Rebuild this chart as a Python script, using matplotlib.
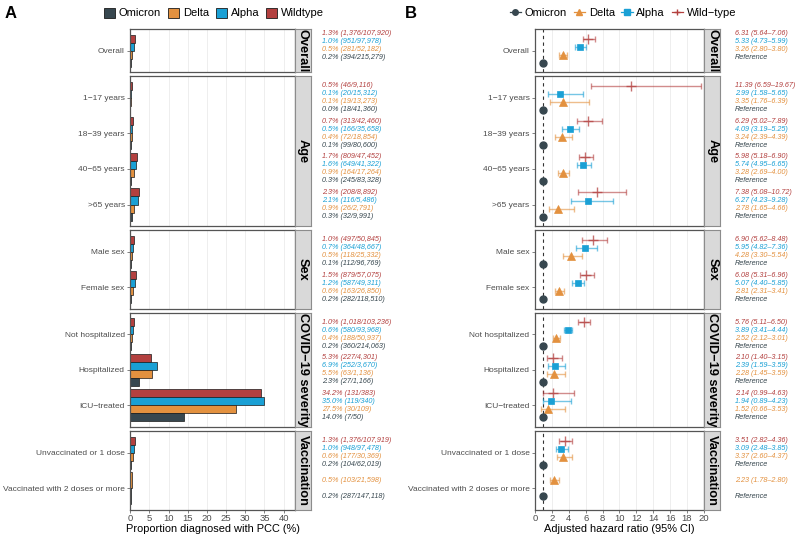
import matplotlib.pyplot as plt
from matplotlib.lines import Line2D
from matplotlib.patches import Patch
from matplotlib.transforms import blended_transform_factory

plt.rcParams['font.family'] = ['Liberation Sans', 'DejaVu Sans']

# ---- data ----
facets = ["Overall", "Age", "Sex", "COVID\u221219 severity", "Vaccination"]
facet_rows = [1, 4, 2, 3, 2]
categories = ["Overall", "1\u221217 years", "18\u221239 years", "40\u221265 years", ">65 years",
              "Male sex", "Female sex", "Not hospitalized", "Hospitalized", "ICU\u2212treated",
              "Unvaccinated or 1 dose", "Vaccinated with 2 doses or more"]

variants = ["Wildtype", "Alpha", "Delta", "Omicron"]
colors = ["#B3403F", "#1AA0D5", "#E3913F", "#37474F"]

# panel A: PCC cases / persons
wild_cases = [1376, 46, 313, 809, 208, 497, 879, 1018, 227, 131, 1376, None]
wild_total = [107920, 9116, 42460, 47452, 8892, 50845, 57075, 103236, 4301, 383, 107919, None]
alpha_cases = [951, 20, 166, 649, 116, 364, 587, 580, 252, 119, 948, None]
alpha_total = [97978, 15312, 35658, 41322, 5486, 48667, 49311, 93968, 3670, 340, 97478, None]
delta_cases = [281, 19, 72, 164, 26, 118, 163, 188, 63, 30, 177, 103]
delta_total = [52182, 13273, 18854, 17264, 2791, 25332, 26850, 50937, 1136, 109, 30369, 21598]
omicron_cases = [394, 18, 99, 245, 32, 112, 282, 360, 27, 7, 104, 287]
omicron_total = [215279, 41360, 80600, 83328, 9991, 96769, 118510, 214063, 1166, 50, 62019, 147118]

# panel B: adjusted hazard ratios (Omicron = reference)
wild_hr = [6.31, 11.39, 6.29, 5.98, 7.38, 6.90, 6.08, 5.76, 2.10, 2.14, 3.51, None]
wild_lo = [5.64, 6.59, 5.02, 5.18, 5.08, 5.62, 5.31, 5.11, 1.40, 0.99, 2.82, None]
wild_hi = [7.06, 19.67, 7.89, 6.90, 10.72, 8.48, 6.96, 6.50, 3.15, 4.63, 4.36, None]
alpha_hr = [5.33, 2.99, 4.09, 5.74, 6.27, 5.95, 5.07, 3.89, 2.39, 1.94, 3.09, None]
alpha_lo = [4.73, 1.58, 3.19, 4.95, 4.23, 4.82, 4.40, 3.41, 1.59, 0.89, 2.48, None]
alpha_hi = [5.99, 5.65, 5.25, 6.65, 9.28, 7.36, 5.85, 4.44, 3.59, 4.23, 3.85, None]
delta_hr = [3.26, 3.35, 3.24, 3.28, 2.78, 4.28, 2.81, 2.52, 2.28, 1.52, 3.37, 2.23]
delta_lo = [2.80, 1.76, 2.39, 2.69, 1.65, 3.30, 2.31, 2.12, 1.45, 0.66, 2.60, 1.78]
delta_hi = [3.80, 6.39, 4.39, 4.00, 4.66, 5.54, 3.41, 3.01, 3.59, 3.53, 4.37, 2.80]
reference_hr = 1

cases = [wild_cases, alpha_cases, delta_cases, omicron_cases]
totals = [wild_total, alpha_total, delta_total, omicron_total]
hrs = [wild_hr, alpha_hr, delta_hr]
los = [wild_lo, alpha_lo, delta_lo]
his = [wild_hi, alpha_hi, delta_hi]

# ---- layout ----
W, H = 800, 534
fig = plt.figure(figsize=(W / 100, H / 100), dpi=100)


def px_axes(x0, x1, y0, y1):
    return fig.add_axes([x0 / W, 1 - y1 / H, (x1 - x0) / W, (y1 - y0) / H])


top, bottom, gap = 29.3, 509.5, 4.4
unit = (bottom - top - gap * (len(facets) - 1)) / sum(n - 1 + 1.2 for n in facet_rows)
grey = "#4D4D4D"
border = "#555555"


def dodge(i):
    present = [v for v in range(4) if cases[v][i] is not None]
    k = len(present)
    return {v: -0.45 + (j + 0.5) * 0.9 / k for j, v in enumerate(present)}, 0.9 / k


def facet_panel(x0, x1, y0, y1, name, rows, labels, xlim, xticks, last):
    ax = px_axes(x0, x1, y0, y1)
    ax.set_xlim(*xlim)
    ax.set_ylim(rows - 1 + 0.6, -0.6)
    ax.set_yticks(range(rows))
    ax.set_yticklabels(labels, fontsize=6, color=grey)
    ax.set_xticks(xticks)
    ax.grid(axis="x", color="#EBEBEB", linewidth=0.6)
    ax.set_axisbelow(True)
    for s in ax.spines.values():
        s.set_color(border)
        s.set_linewidth(0.9)
    ax.tick_params(axis="both", length=2.5, width=0.5, color=grey, pad=1.5)
    if last:
        ax.tick_params(axis="x", labelsize=6.8, labelcolor=grey, pad=1)
    else:
        ax.tick_params(axis="x", length=0, labelbottom=False)
    # strip
    st = px_axes(x1, x1 + 16, y0, y1)
    st.set_facecolor("#D9D9D9")
    st.set_xticks([])
    st.set_yticks([])
    for s in st.spines.values():
        s.set_color("#8C8C8C")
        s.set_linewidth(0.8)
    st.text(0.5, 0.5, name, rotation=-90, ha="center", va="center", fontsize=9.2,
            fontweight="bold", transform=st.transAxes, clip_on=True)
    return ax


y = top
idx = 0
for f, (name, rows) in enumerate(zip(facets, facet_rows)):
    h = (rows - 1 + 1.2) * unit
    cat_ids = list(range(idx, idx + rows))
    labels = [categories[i] for i in cat_ids]
    last = f == len(facets) - 1

    # ---- panel A ----
    axA = facet_panel(130.3, 294.7, y, y + h, name, rows, labels, (0, 42.9),
                      range(0, 45, 5), last)
    trA = blended_transform_factory(fig.transFigure, axA.transData)
    # ---- panel B ----
    axB = facet_panel(535.0, 704.3, y, y + h, name, rows, labels, (0, 20.05),
                      range(0, 22, 2), last)
    axB.axvline(1, color="#333333", linestyle=(0, (3, 3)), linewidth=0.8, zorder=1)
    trB = blended_transform_factory(fig.transFigure, axB.transData)

    for r, i in enumerate(cat_ids):
        offs, bh = dodge(i)
        shift = -0.15 if name == "Overall" else 0
        for v, off in offs.items():
            n, N = cases[v][i], totals[v][i]
            pct = n / N * 100
            axA.barh(r + off, pct, height=bh, color=colors[v], edgecolor="#1A1A1A",
                     linewidth=0.5, zorder=2)
            fig.text(322 / W, r + off + shift, f"{pct:.1f}% ({n:,}/{N:,})", transform=trA,
                     fontsize=5.2, style="italic", color=colors[v], va="center", ha="left")
            if v < 3:
                hr, lo, hi = hrs[v][i], los[v][i], his[v][i]
                axB.errorbar([hr], [r + off], xerr=[[hr - lo], [hi - hr]], fmt="none",
                             ecolor=colors[v], alpha=0.6, elinewidth=1.0, capsize=2.4,
                             capthick=1.0, zorder=3)
                marker = ["+", "s", "^"][v]
                ms = [7, 4.8, 5.5][v]
                axB.plot([hr], [r + off], marker=marker, color=colors[v], markersize=ms,
                         markeredgewidth=1.0 if v == 0 else 0.5,
                         alpha=0.75 if v == 0 else 1, linestyle="none", zorder=4)
                txt = f"{hr:.2f} ({lo:.2f}\u2013{hi:.2f})"
            else:
                axB.plot([reference_hr], [r + off], marker="o", color=colors[v],
                         markersize=5, linestyle="none", zorder=4)
                txt = "Reference"
            fig.text(735 / W, r + off + shift, txt, transform=trB, fontsize=5.2,
                     style="italic", color=colors[v], va="center", ha="left")

    if last:
        axA.set_xlabel("Proportion diagnosed with PCC (%)", fontsize=7.9, labelpad=0.5)
        axB.set_xlabel("Adjusted hazard ratio (95% CI)", fontsize=7.9, labelpad=0.5)
    idx += rows
    y += h + gap

# ---- legends ----
order = [3, 2, 1, 0]
hA = [Patch(facecolor=colors[v], edgecolor="#1A1A1A", linewidth=0.6, label=variants[v])
      for v in order]
fig.legend(handles=hA, loc="center", bbox_to_anchor=(214 / W, 1 - 13 / H), ncol=4,
           frameon=False, fontsize=8, handlelength=1.0, handleheight=1.0,
           handletextpad=0.35, columnspacing=0.6, borderpad=0)
b_markers = ["+", "s", "^", "o"]
b_names = ["Wild\u2212type", "Alpha", "Delta", "Omicron"]
hB = [Line2D([0], [0], color=colors[v], marker=b_markers[v], markersize=4,
             linewidth=0.9, label=b_names[v]) for v in order]
fig.legend(handles=hB, loc="center", bbox_to_anchor=(623 / W, 1 - 13 / H), ncol=4,
           frameon=False, fontsize=8, handlelength=1.0, handletextpad=0.35,
           columnspacing=0.6, borderpad=0)

fig.text(5 / W, 1 - 13 / H, "A", fontsize=12, fontweight="bold", va="center")
fig.text(405 / W, 1 - 13 / H, "B", fontsize=12, fontweight="bold", va="center")

fig.savefig("out.png", dpi=100)
